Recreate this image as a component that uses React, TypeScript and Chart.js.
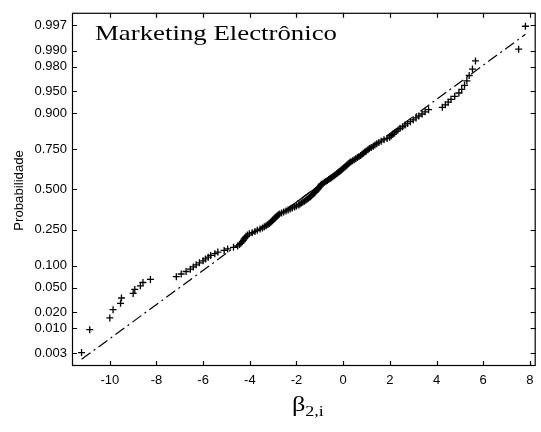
import { useEffect, useRef } from "react";
import { Chart, registerables } from "chart.js";

Chart.register(...registerables);

// Normal probability plot of the estimated coefficients
const TITLE = "Marketing Electrônico";
const Y_LABEL = "Probabilidade";
const X_LABEL_MAIN = "β";
const X_LABEL_SUB = "2,i";

// Sorted sample of β2,i estimates
const BETA: number[] = [
  -11.21, -10.86, -10.0, -9.86, -9.54, -9.5, -9.0, -8.93, -8.69, -8.58,
  -8.26, -7.15, -6.94, -6.73, -6.55, -6.42, -6.3, -6.16, -6.0, -5.9,
  -5.78, -5.68, -5.5, -5.37, -5.1, -4.95, -4.7, -4.52, -4.44, -4.38,
  -4.32, -4.28, -4.24, -4.2, -4.16, -4.1, -4.02, -3.9, -3.78, -3.68,
  -3.56, -3.46, -3.38, -3.3, -3.22, -3.16, -3.11, -3.06, -3.02, -2.97,
  -2.92, -2.88, -2.83, -2.79, -2.74, -2.64, -2.55, -2.45, -2.36, -2.27,
  -2.18, -2.08, -2.0, -1.9, -1.85, -1.79, -1.73, -1.66, -1.6, -1.55,
  -1.49, -1.43, -1.39, -1.35, -1.31, -1.27, -1.23, -1.19, -1.15, -1.11,
  -1.08, -1.05, -1.02, -0.99, -0.96, -0.93, -0.86, -0.8, -0.74, -0.68,
  -0.62, -0.56, -0.51, -0.45, -0.39, -0.34, -0.28, -0.23, -0.18, -0.13,
  -0.08, -0.03, 0.02, 0.07, 0.12, 0.17, 0.22, 0.27, 0.33, 0.4,
  0.47, 0.54, 0.61, 0.68, 0.75, 0.81, 0.87, 0.93, 0.99, 1.06,
  1.12, 1.2, 1.29, 1.36, 1.44, 1.53, 1.63, 1.75, 1.88, 1.99,
  2.06, 2.13, 2.2, 2.27, 2.35, 2.44, 2.55, 2.65, 2.76, 2.88,
  3.0, 3.12, 3.24, 3.38, 3.51, 3.66, 4.25, 4.38, 4.5, 4.62,
  4.78, 4.96, 5.08, 5.2, 5.3, 5.4, 5.54, 5.67, 7.52, 7.81,
];

const PROB_TICKS = [0.003, 0.01, 0.02, 0.05, 0.1, 0.25, 0.5, 0.75, 0.9, 0.95, 0.98, 0.99, 0.997];
const BETA_TICKS = [-10, -8, -6, -4, -2, 0, 2, 4, 6, 8];
const BETA_MIN = -11.62;
const BETA_MAX = 8.25;
const PROB_MIN = 0.00154;
const PROB_MAX = 0.99846;

// Inverse of the standard normal CDF (Acklam's rational approximation)
function norminv(p: number): number {
  const a = [-39.69683028665376, 220.9460984245205, -275.9285104469687, 138.357751867269, -30.66479806614716, 2.506628277459239];
  const b = [-54.47609879822406, 161.5858368580409, -155.6989798598866, 66.80131188771972, -13.28068155288572];
  const c = [-0.007784894002430293, -0.3223964580411365, -2.400758277161838, -2.549732539343734, 4.374664141464968, 2.938163982698783];
  const d = [0.007784695709041462, 0.3224671290700398, 2.445134137142996, 3.754408661907416];
  const pl = 0.02425;
  if (p < pl) {
    const q = Math.sqrt(-2 * Math.log(p));
    return (((((c[0] * q + c[1]) * q + c[2]) * q + c[3]) * q + c[4]) * q + c[5]) /
      ((((d[0] * q + d[1]) * q + d[2]) * q + d[3]) * q + 1);
  }
  if (p > 1 - pl) {
    const q = Math.sqrt(-2 * Math.log(1 - p));
    return -(((((c[0] * q + c[1]) * q + c[2]) * q + c[3]) * q + c[4]) * q + c[5]) /
      ((((d[0] * q + d[1]) * q + d[2]) * q + d[3]) * q + 1);
  }
  const q = p - 0.5;
  const r = q * q;
  return (((((a[0] * r + a[1]) * r + a[2]) * r + a[3]) * r + a[4]) * r + a[5]) * q /
    (((((b[0] * r + b[1]) * r + b[2]) * r + b[3]) * r + b[4]) * r + 1);
}

// Sample quantile with plotting positions (i - 0.5) / n
function quantile(sorted: number[], p: number): number {
  const n = sorted.length;
  const pos = p * n - 0.5;
  const lo = Math.max(0, Math.min(n - 1, Math.floor(pos)));
  const hi = Math.min(n - 1, lo + 1);
  const t = pos - lo;
  return sorted[lo] + (sorted[hi] - sorted[lo]) * t;
}

const framePlugin = {
  id: "frameAndLabels",
  afterDraw(chart: any) {
    const { ctx, chartArea } = chart;
    const { left, right, top, bottom } = chartArea;
    const xs = chart.scales.x;
    const ys = chart.scales.y;
    ctx.save();
    ctx.strokeStyle = "#000";
    ctx.lineWidth = 1.2;
    ctx.strokeRect(left + 0.5, top + 0.5, right - left - 1, bottom - top - 1);
    const tl = 5;
    ctx.beginPath();
    for (const v of BETA_TICKS) {
      const px = Math.round(xs.getPixelForValue(v)) + 0.5;
      ctx.moveTo(px, bottom);
      ctx.lineTo(px, bottom - tl);
      ctx.moveTo(px, top);
      ctx.lineTo(px, top + tl);
    }
    for (const p of PROB_TICKS) {
      const py = Math.round(ys.getPixelForValue(norminv(p))) + 0.5;
      ctx.moveTo(left, py);
      ctx.lineTo(left + tl, py);
      ctx.moveTo(right, py);
      ctx.lineTo(right - tl, py);
    }
    ctx.stroke();

    // Title inside the plot
    ctx.fillStyle = "#000";
    ctx.font = "22px 'Liberation Serif', 'Times New Roman', serif";
    ctx.textBaseline = "alphabetic";
    ctx.textAlign = "left";
    const tw = ctx.measureText(TITLE).width;
    const sx = 242 / tw;
    ctx.save();
    ctx.translate(95, 40);
    ctx.scale(sx, 1);
    ctx.fillText(TITLE, 0, 0);
    ctx.restore();

    // Y axis label
    ctx.save();
    ctx.font = "12px 'Liberation Sans', Arial, sans-serif";
    ctx.translate(20, (top + bottom) / 2 + 1);
    ctx.rotate(-Math.PI / 2);
    ctx.textAlign = "center";
    ctx.textBaseline = "middle";
    ctx.scale(1.1, 1);
    ctx.fillText(Y_LABEL, 0, 0);
    ctx.restore();

    // X axis label with subscript
    ctx.save();
    const mainFont = "22px 'Liberation Serif', 'Times New Roman', serif";
    const subFont = "15px 'Liberation Serif', 'Times New Roman', serif";
    ctx.font = mainFont;
    const mw = ctx.measureText(X_LABEL_MAIN).width * 1.2;
    ctx.font = subFont;
    const sw = ctx.measureText(X_LABEL_SUB).width * 1.2;
    const cx = (left + right) / 2 + 4;
    const x0 = cx - (mw + sw) / 2;
    ctx.textAlign = "left";
    ctx.textBaseline = "alphabetic";
    ctx.save();
    ctx.translate(x0, 411);
    ctx.scale(1.2, 1);
    ctx.font = mainFont;
    ctx.fillText(X_LABEL_MAIN, 0, 0);
    ctx.restore();
    ctx.save();
    ctx.translate(x0 + mw, 416);
    ctx.scale(1.2, 1);
    ctx.font = subFont;
    ctx.fillText(X_LABEL_SUB, 0, 0);
    ctx.restore();
    ctx.restore();

    ctx.restore();
  },
};

export default function App() {
  const ref = useRef<HTMLCanvasElement | null>(null);

  useEffect(() => {
    if (!ref.current) return;
    const n = BETA.length;
    const points = BETA.map((b, i) => ({ x: b, y: norminv((i + 0.5) / n) }));

    // Reference line through the first and third quartiles
    const q1 = quantile(BETA, 0.25);
    const q3 = quantile(BETA, 0.75);
    const z1 = norminv(0.25);
    const z3 = norminv(0.75);
    const slope = (z3 - z1) / (q3 - q1);
    const lineAt = (b: number) => z1 + slope * (b - q1);
    const bMin = BETA[0];
    const bMax = BETA[n - 1];

    const tickFont = { family: "'Liberation Sans', Arial, sans-serif", size: 13 };

    const chart = new Chart(ref.current, {
      type: "scatter",
      data: {
        datasets: [
          {
            data: [
              { x: bMin, y: lineAt(bMin) },
              { x: bMax, y: lineAt(bMax) },
            ],
            showLine: true,
            borderColor: "#000",
            borderWidth: 1.2,
            borderDash: [11, 4, 2, 4],
            pointRadius: 0,
            order: 3,
          },
          {
            data: [
              { x: q1, y: z1 },
              { x: q3, y: z3 },
            ],
            showLine: true,
            borderColor: "#000",
            borderWidth: 1.2,
            pointRadius: 0,
            order: 2,
          },
          {
            data: points,
            pointStyle: "cross",
            pointRadius: 3.5,
            borderColor: "#000",
            backgroundColor: "#000",
            pointBorderWidth: 1.3,
            borderWidth: 1.3,
            showLine: false,
            order: 1,
          },
        ],
      },
      options: {
        responsive: false,
        animation: false,
        devicePixelRatio: 1,
        layout: { padding: { top: 5, right: 4, left: 0, bottom: 0 } },
        plugins: {
          legend: { display: false },
          tooltip: { enabled: false },
          title: { display: false },
        },
        scales: {
          x: {
            type: "linear",
            min: BETA_MIN,
            max: BETA_MAX,
            grid: { display: false, drawTicks: false },
            border: { display: false },
            afterBuildTicks: (s: any) => {
              s.ticks = BETA_TICKS.map((v) => ({ value: v }));
            },
            afterFit: (s: any) => {
              s.height = 66;
            },
            ticks: {
              font: tickFont,
              color: "#000",
              padding: 7,
              autoSkip: false,
              maxRotation: 0,
              callback: (v: any) => String(v),
            },
          },
          y: {
            type: "linear",
            min: norminv(PROB_MIN),
            max: norminv(PROB_MAX),
            grid: { display: false, drawTicks: false },
            border: { display: false },
            afterBuildTicks: (s: any) => {
              s.ticks = PROB_TICKS.map((p) => ({ value: norminv(p) }));
            },
            afterFit: (s: any) => {
              s.width = 72;
            },
            ticks: {
              font: tickFont,
              color: "#000",
              padding: 5,
              autoSkip: false,
              callback: (_v: any, i: number) => PROB_TICKS[i].toFixed(3),
            },
          },
        },
      },
      plugins: [framePlugin],
    });
    return () => chart.destroy();
  }, []);

  return (
    <div style={{ position: "absolute", left: 0, top: 0, width: 541, height: 432, background: "#fff" }}>
      <canvas ref={ref} width={541} height={432} />
    </div>
  );
}
